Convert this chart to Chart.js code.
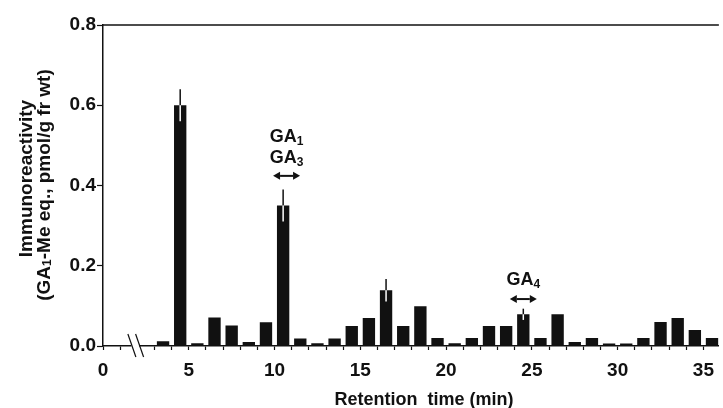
<!DOCTYPE html>
<html>
<head>
<meta charset="utf-8">
<script src="https://cdn.jsdelivr.net/npm/chart.js@4.4.1/dist/chart.umd.min.js"></script>
<style>
  html, body { margin: 0; padding: 0; background: #fff; }
</style>
</head>
<body>
<canvas id="hplcChart" width="723" height="408"></canvas>
<script>
// HPLC fractions: start of each 1-min fraction (min)
const fractionStart = [3, 4, 5, 6, 7, 8, 9, 10, 11, 12, 13, 14, 15, 16, 17, 18, 19,
    20, 21, 22, 23, 24, 25, 26, 27, 28, 29, 30, 31, 32, 33, 34, 35];

// immunoreactivity (GA1-Me eq., pmol/g fr wt)
const immunoreactivity = [0.012, 0.60, 0.007, 0.071, 0.051, 0.010, 0.059, 0.35, 0.019, 0.007,
    0.019, 0.050, 0.070, 0.139, 0.050, 0.099, 0.020, 0.007, 0.020, 0.050, 0.050, 0.079,
    0.020, 0.079, 0.010, 0.020, 0.006, 0.006, 0.020, 0.060, 0.070, 0.040, 0.020];

// error bars (fraction start, +/- size)
const errorStart = [4, 10, 16, 24];
const errorSize = [0.04, 0.04, 0.028, 0.014];

const yTickValues = [0, 0.2, 0.4, 0.6, 0.8];
const xLabelStep = 5;

const FONT = '"Liberation Sans", Arial, Helvetica, sans-serif';
const INK = "#111";

// draws text made of pieces (normal + subscript) centered on x
function drawPieces(ctx, pieces, x, y) {
    let total = 0;
    pieces.forEach((p) => {
        ctx.font = "bold " + p.size + "px " + FONT;
        p.w = ctx.measureText(p.text).width;
        total += p.w;
    });
    let cx = x - total / 2;
    ctx.textAlign = "left";
    ctx.textBaseline = "alphabetic";
    pieces.forEach((p) => {
        ctx.font = "bold " + p.size + "px " + FONT;
        ctx.fillText(p.text, cx, y + (p.dy || 0));
        cx += p.w;
    });
}

function gaLabel(num) {
    return [{ text: "GA", size: 18 }, { text: num, size: 12, dy: 3 }];
}

function doubleArrow(ctx, x1, x2, y) {
    const head = 7;
    ctx.lineWidth = 2;
    ctx.beginPath();
    ctx.moveTo(x1 + head, y);
    ctx.lineTo(x2 - head, y);
    ctx.stroke();
    ctx.beginPath();
    ctx.moveTo(x1, y);
    ctx.lineTo(x1 + head, y - 4);
    ctx.lineTo(x1 + head, y + 4);
    ctx.closePath();
    ctx.fill();
    ctx.beginPath();
    ctx.moveTo(x2, y);
    ctx.lineTo(x2 - head, y - 4);
    ctx.lineTo(x2 - head, y + 4);
    ctx.closePath();
    ctx.fill();
}

const extrasPlugin = {
    id: "extras",
    afterDraw(chart) {
        const ctx = chart.ctx;
        const x = chart.scales.x;
        const y = chart.scales.y;
        const area = chart.chartArea;
        ctx.save();
        ctx.strokeStyle = INK;
        ctx.fillStyle = INK;

        // top frame line
        ctx.lineWidth = 1.5;
        ctx.beginPath();
        ctx.moveTo(area.left, area.top);
        ctx.lineTo(area.right, area.top);
        ctx.stroke();

        // error bars: black above the bar, white inside it
        errorStart.forEach((s, i) => {
            const v = immunoreactivity[fractionStart.indexOf(s)];
            const px = x.getPixelForValue(s + 0.5);
            ctx.lineWidth = 1.5;
            ctx.strokeStyle = INK;
            ctx.beginPath();
            ctx.moveTo(px, y.getPixelForValue(v + errorSize[i]));
            ctx.lineTo(px, y.getPixelForValue(v));
            ctx.stroke();
            ctx.strokeStyle = "#fff";
            ctx.beginPath();
            ctx.moveTo(px, y.getPixelForValue(v));
            ctx.lineTo(px, y.getPixelForValue(v - errorSize[i]));
            ctx.stroke();
        });

        // axis break
        const bx1 = x.getPixelForValue(1.45), bx2 = x.getPixelForValue(1.9);
        const top = area.bottom - 12, bot = area.bottom + 11;
        ctx.fillStyle = "#fff";
        ctx.fillRect(bx1 + 3.5, area.bottom - 2, bx2 - bx1, 4);
        ctx.strokeStyle = INK;
        ctx.fillStyle = INK;
        ctx.lineWidth = 1.2;
        [bx1, bx2].forEach((bx) => {
            ctx.beginPath();
            ctx.moveTo(bx, top);
            ctx.lineTo(bx + 8, bot);
            ctx.stroke();
        });

        // GA annotations
        const g1x = x.getPixelForValue(10.7);
        drawPieces(ctx, gaLabel("1"), g1x, y.getPixelForValue(0.509));
        drawPieces(ctx, gaLabel("3"), g1x, y.getPixelForValue(0.456));
        doubleArrow(ctx, g1x - 13.5, g1x + 13.5, y.getPixelForValue(0.424));
        const g4x = x.getPixelForValue(24.5);
        drawPieces(ctx, gaLabel("4"), g4x, y.getPixelForValue(0.152));
        doubleArrow(ctx, g4x - 13.5, g4x + 13.5, y.getPixelForValue(0.117));

        // axis titles
        ctx.save();
        ctx.translate(31.5, 178.5);
        ctx.rotate(-Math.PI / 2);
        drawPieces(ctx, [{ text: "Immunoreactivity", size: 19 }], 0, 0);
        ctx.restore();
        ctx.save();
        ctx.translate(50, 185);
        ctx.rotate(-Math.PI / 2);
        drawPieces(ctx, [
            { text: "(GA", size: 19 },
            { text: "1", size: 12, dy: 1 },
            { text: "-Me eq., pmol/g fr wt)", size: 19 },
        ], 0, 0);
        ctx.restore();
        drawPieces(ctx, [{ text: "Retention  time (min)", size: 18 }], 424, 405);

        ctx.restore();
    },
};

const ctx = document.getElementById("hplcChart").getContext("2d");

new Chart(ctx, {
    type: "bar",
    data: {
        datasets: [
            {
                data: fractionStart.map((s, i) => ({ x: s + 0.5, y: immunoreactivity[i] })),
                backgroundColor: INK,
                borderWidth: 0,
                barPercentage: 0.72,
                categoryPercentage: 1,
            },
        ],
    },
    options: {
        responsive: false,
        animation: false,
        layout: { padding: { top: 25, left: 0, right: 0, bottom: 0 } },
        plugins: { legend: { display: false }, tooltip: { enabled: false } },
        scales: {
            x: {
                type: "linear",
                min: 0,
                max: 35.9,
                offset: false,
                afterFit: (s) => { s.height = 62; },
                border: { color: INK, width: 1.5 },
                grid: {
                    drawOnChartArea: false,
                    offset: false,
                    tickLength: 4,
                    tickWidth: 1.2,
                    tickColor: (c) => (c.tick && c.tick.value === 2 ? "rgba(0,0,0,0)" : INK),
                },
                ticks: {
                    stepSize: 1,
                    includeBounds: false,
                    autoSkip: false,
                    maxRotation: 0,
                    padding: 9,
                    color: INK,
                    font: { family: FONT, size: 19, weight: "bold" },
                    callback: (v) => (v % xLabelStep === 0 ? String(v) : ""),
                },
            },
            y: {
                min: 0,
                max: 0.8,
                afterFit: (s) => { s.width = 103; },
                afterBuildTicks: (s) => { s.ticks = yTickValues.map((v) => ({ value: v })); },
                border: { color: INK, width: 1.5 },
                grid: { drawOnChartArea: false, tickLength: 6, tickWidth: 1.2, tickColor: INK },
                ticks: {
                    padding: 1,
                    color: INK,
                    font: { family: FONT, size: 19, weight: "bold" },
                    callback: (v) => v.toFixed(1),
                },
            },
        },
    },
    plugins: [extrasPlugin],
});
</script>
</body>
</html>
